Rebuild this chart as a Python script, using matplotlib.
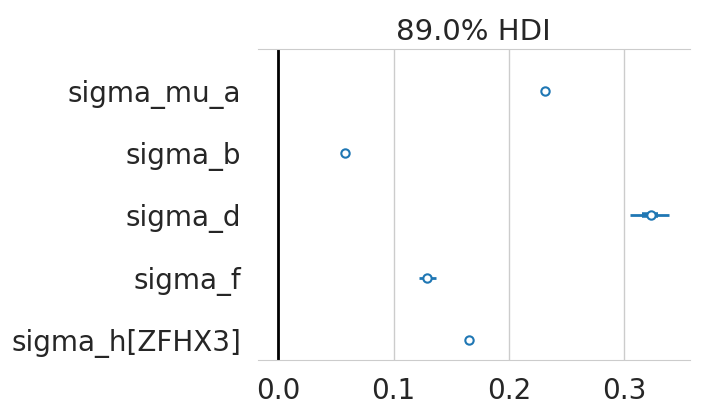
import matplotlib
matplotlib.use("Agg")
import matplotlib.pyplot as plt

labels = ["sigma_mu_a", "sigma_b", "sigma_d", "sigma_f", "sigma_h[ZFHX3]"]
means = [0.231, 0.058, 0.323, 0.129, 0.165]
hdi_lo = [0.229, 0.057, 0.305, 0.122, 0.164]
hdi_hi = [0.233, 0.059, 0.339, 0.137, 0.166]
q_lo = [0.230, 0.0575, 0.315, 0.126, 0.1645]
q_hi = [0.232, 0.0585, 0.329, 0.132, 0.1655]

color = "#1f77b4"
fig = plt.figure(figsize=(7.04, 4.17), dpi=100)
ax = fig.add_axes([0.366, 0.137, 0.614, 0.746])
ys = list(range(len(labels)))[::-1]
for y, m, lo, hi, ql, qh in zip(ys, means, hdi_lo, hdi_hi, q_lo, q_hi):
    ax.plot([lo, hi], [y, y], color=color, lw=2, solid_capstyle="butt")
    ax.plot([ql, qh], [y, y], color=color, lw=4, solid_capstyle="butt")
    ax.plot([m], [y], "o", mfc="white", mec=color, mew=1.5, ms=6)
ax.axvline(0, color="black", lw=2)
ax.set_yticks(ys)
ax.set_yticklabels(labels)
ax.set_ylim(-0.32, 4.67)
ax.set_xlim(-0.018, 0.357)
ax.set_xticks([0.0, 0.1, 0.2, 0.3])
ax.set_xticklabels(["0.0", "0.1", "0.2", "0.3"])
ax.grid(axis="x", color="#cccccc", lw=1)
ax.set_axisbelow(True)
for s in ["left", "right"]:
    ax.spines[s].set_visible(False)
for s in ["top", "bottom"]:
    ax.spines[s].set_color("#cccccc")
ax.tick_params(length=0, labelsize=20, colors="#262626", pad=12)
ax.set_title("89.0% HDI", fontsize=21, color="#262626", pad=6)
fig.savefig("out.png", dpi=100)
